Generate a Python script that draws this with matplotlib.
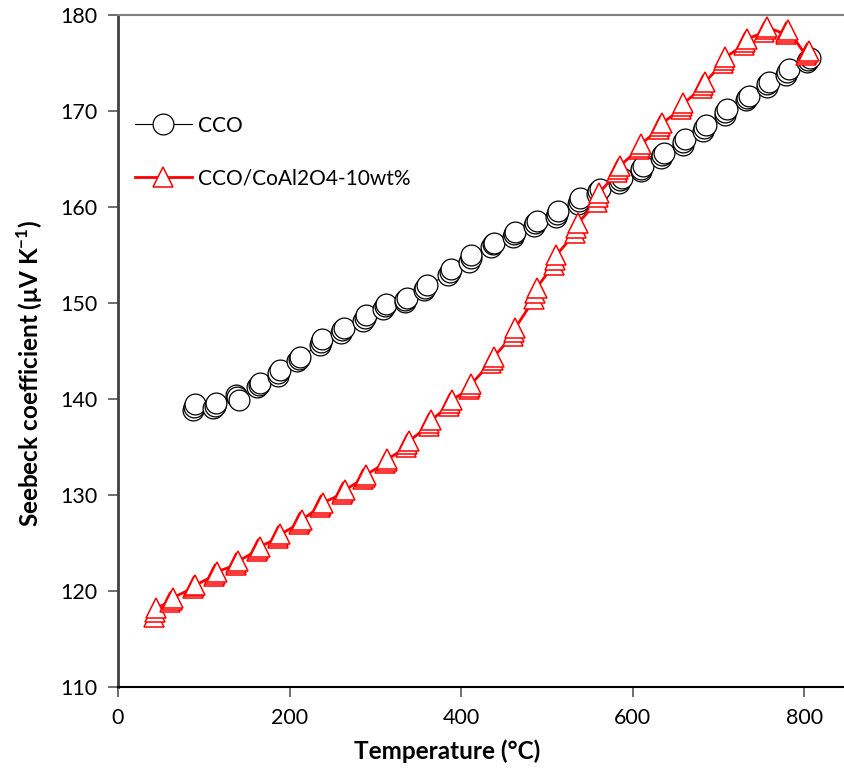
import matplotlib
matplotlib.use('Agg')
import matplotlib.pyplot as plt

plt.rcParams['font.family'] = ['Lato', 'DejaVu Sans']
plt.rcParams['mathtext.fontset'] = 'custom'
plt.rcParams['mathtext.rm'] = 'Lato'
plt.rcParams['mathtext.bf'] = 'Lato:bold'

# CCO: temperature (°C) and Seebeck coefficient (uV/K), repeated readings per step
cco_t = [87, 88, 90, 111, 113, 114, 137, 139, 141, 162, 164, 165,
         186, 187, 189, 209, 211, 212, 235, 237, 238, 260, 261, 263,
         286, 288, 289, 309, 311, 312, 334, 335, 337, 357, 358, 360,
         385, 387, 388, 409, 411, 412, 435, 437, 438, 460, 461, 463,
         485, 486, 488, 510, 512, 513, 536, 537, 539, 558, 560, 562,
         584, 585, 587, 609, 610, 612, 633, 634, 636, 658, 659, 661,
         682, 683, 685, 707, 708, 710, 732, 733, 735, 756, 757, 759,
         779, 780, 782, 803, 804, 806]
cco_s = [138.9, 139.2, 139.5, 139.1, 139.3, 139.6, 140.4, 140.2, 139.9, 141.3, 141.5, 141.7,
         142.4, 142.7, 143.0, 144.0, 144.2, 144.4, 145.6, 145.9, 146.2, 146.9, 147.2, 147.4,
         148.1, 148.4, 148.7, 149.4, 149.7, 149.9, 150.1, 150.3, 150.5, 151.4, 151.6, 151.9,
         152.9, 153.2, 153.5, 154.3, 154.7, 155.0, 155.8, 156.1, 156.3, 156.9, 157.2, 157.4,
         158.0, 158.3, 158.5, 159.0, 159.3, 159.6, 160.3, 160.6, 160.9, 161.4, 161.7, 161.9,
         162.5, 162.8, 163.0, 163.7, 164.0, 164.3, 165.1, 165.4, 165.6, 166.5, 166.8, 167.1,
         167.9, 168.2, 168.5, 169.6, 169.9, 170.2, 171.1, 171.4, 171.6, 172.5, 172.8, 173.0,
         173.8, 174.1, 174.4, 175.1, 175.3, 175.5]

# CCO/CoAl2O4-10wt%
comp_t = [42, 43, 44, 61, 63, 64, 87, 88, 90, 112, 113, 115,
          137, 138, 140, 162, 163, 165, 186, 187, 189, 211, 212, 214,
          236, 237, 239, 261, 262, 264, 286, 288, 289, 311, 313, 314,
          336, 337, 339, 362, 363, 365, 386, 387, 389, 409, 410, 412,
          435, 437, 438, 460, 461, 463, 485, 486, 488, 508, 509, 511,
          533, 534, 536, 558, 559, 561, 582, 583, 585, 607, 608, 610,
          631, 632, 634, 656, 657, 659, 681, 682, 684, 705, 706, 708,
          730, 731, 733, 753, 755, 757, 778, 779, 781, 802, 803, 805]
comp_s = [117.3, 117.8, 118.2, 118.9, 119.1, 119.3, 120.3, 120.5, 120.6, 121.6, 121.8, 122.0,
          122.7, 122.9, 123.1, 124.2, 124.4, 124.6, 125.5, 125.7, 125.9, 127.0, 127.2, 127.4,
          128.8, 129.0, 129.2, 130.1, 130.3, 130.5, 131.7, 131.9, 132.1, 133.3, 133.5, 133.7,
          135.0, 135.3, 135.6, 137.2, 137.5, 137.8, 139.3, 139.6, 139.9, 141.0, 141.3, 141.6,
          143.8, 144.1, 144.4, 146.6, 147.0, 147.4, 150.4, 151.0, 151.6, 154.0, 154.5, 155.0,
          157.3, 157.8, 158.3, 160.5, 161.0, 161.5, 163.6, 164.0, 164.3, 166.0, 166.3, 166.6,
          168.1, 168.4, 168.7, 170.2, 170.5, 170.8, 172.4, 172.7, 173.0, 175.0, 175.3, 175.6,
          176.9, 177.2, 177.5, 178.2, 178.5, 178.7, 178.0, 178.2, 178.4, 175.8, 176.0, 176.2]

x_ticks = [0, 200, 400, 600, 800]
y_ticks = [110, 120, 130, 140, 150, 160, 170, 180]

fig = plt.figure(figsize=(8.44, 7.75), dpi=100)
ax = fig.add_axes([118 / 844, 88 / 775, 725 / 844, 672 / 775])

ax.plot(cco_t, cco_s, color='black', lw=0.8, marker='o', ms=15,
        mfc='white', mec='black', mew=0.9, label='CCO')
ax.plot(comp_t, comp_s, color='#ff0000', lw=2, marker='^', ms=14.5,
        mfc='white', mec='#ff0000', mew=1.1, label='CCO/CoAl2O4-10wt%')

ax.set_xlim(0, 845)
ax.set_ylim(110, 180)
ax.set_xticks(x_ticks)
ax.set_yticks(y_ticks)
ax.tick_params(axis='both', labelsize=15.5, direction='out', length=7,
               width=1.2, color='#555555', pad=8)

ax.spines['right'].set_visible(False)
ax.spines['top'].set_color('#808080')
ax.spines['top'].set_linewidth(1.5)
ax.spines['left'].set_color('#404040')
ax.spines['left'].set_linewidth(2)
ax.spines['bottom'].set_color('black')
ax.spines['bottom'].set_linewidth(1.5)

ax.set_xlabel('Temperature (°C)', fontsize=17.5, fontweight='bold')
ax.set_ylabel('Seebeck coefficient (μV K$^{\\mathbf{-1}}$)', fontsize=17.5,
              fontweight='bold')
ax.xaxis.set_label_coords(0.454, -0.078)
ax.yaxis.set_label_coords(-0.100, 0.466)

ax.legend(loc='upper left', bbox_to_anchor=(-0.002, 0.878), frameon=False,
          fontsize=15, handlelength=2.7, handletextpad=0.3, labelspacing=1.55)

fig.savefig('out.png', dpi=100)
plt.close(fig)
